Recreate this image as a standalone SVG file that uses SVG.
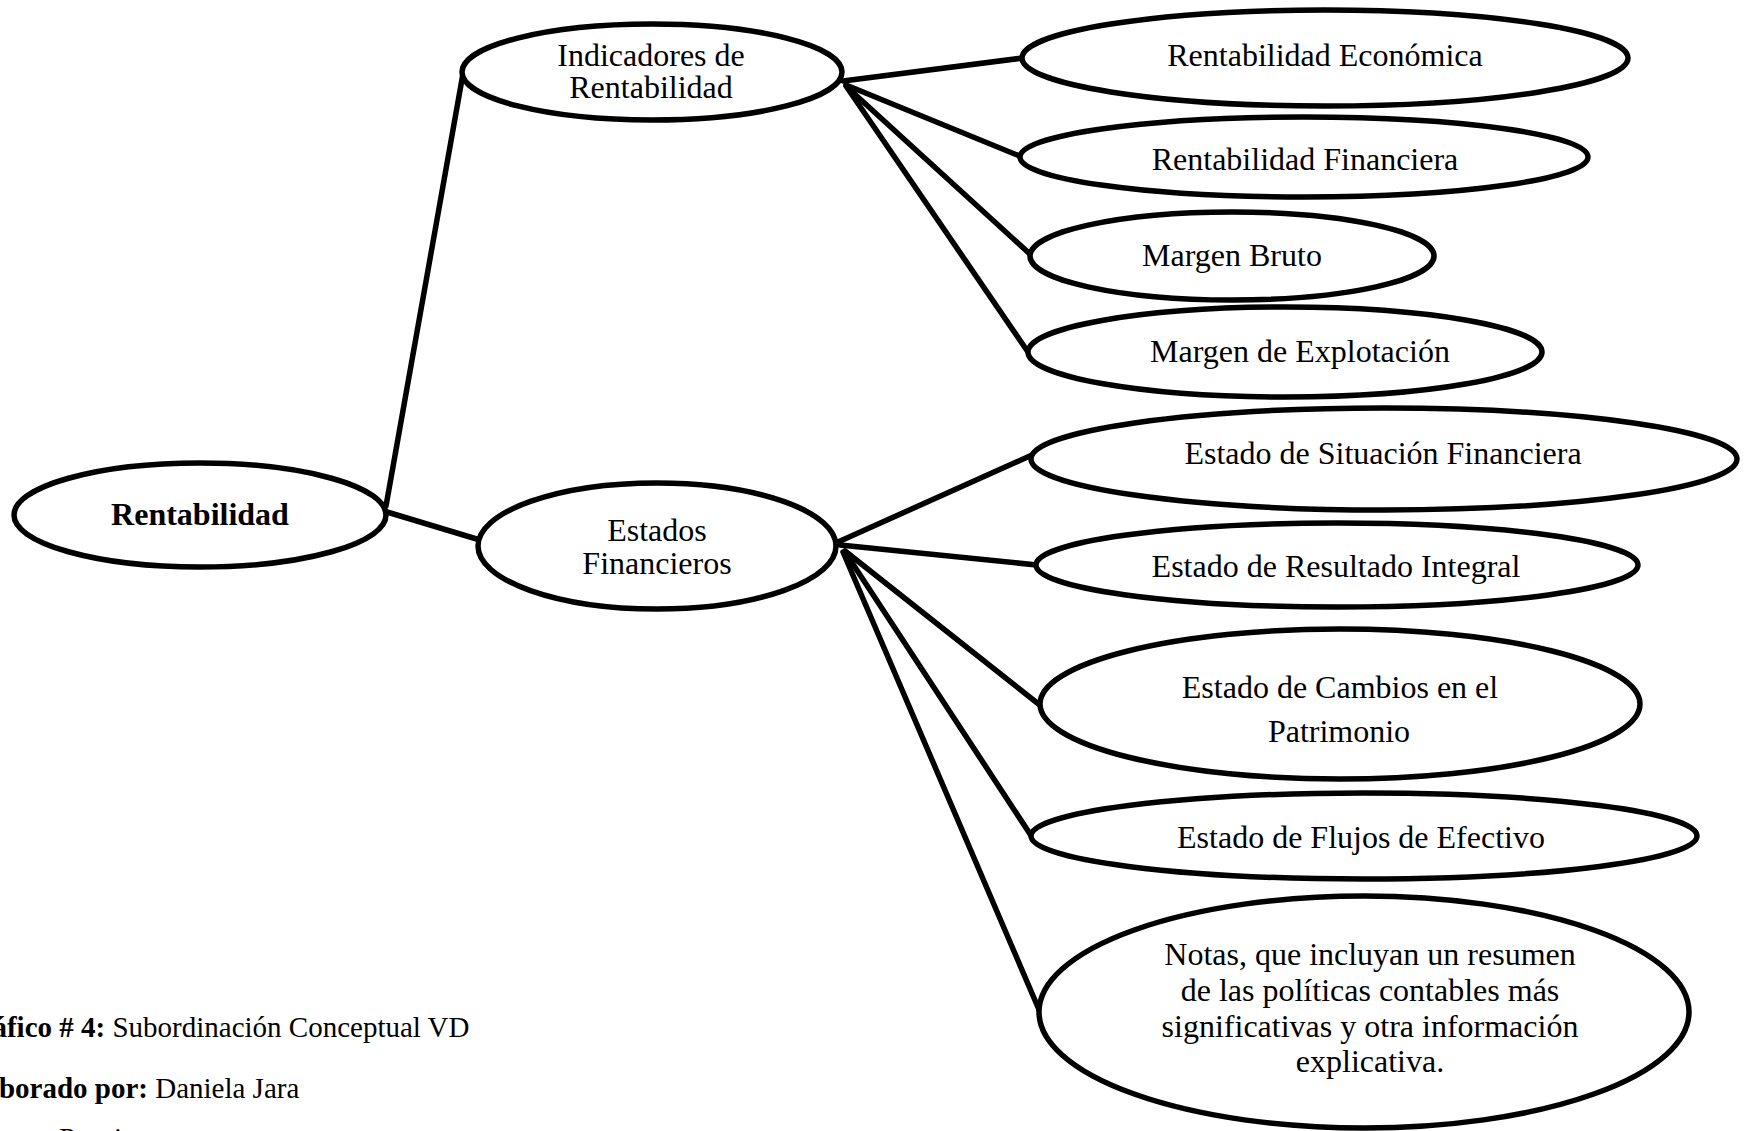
<svg xmlns="http://www.w3.org/2000/svg" width="1752" height="1131" viewBox="0 0 1752 1131">
  <style>
    .node ellipse { fill: #ffffff; stroke: #000000; stroke-width: 5.5; }
    .edges line { stroke: #000000; stroke-width: 5.5; stroke-linecap: round; }
    text { font-family: "Liberation Serif", "Times New Roman", serif; fill: #000000; }
    .lbl { font-size: 32px; text-anchor: middle; }
    .root { font-weight: bold; }
    .foot { font-size: 29px; }
    .foot .b { font-weight: bold; }
  </style>
  <rect width="1752" height="1131" fill="#ffffff"/>

  <!-- connectors -->
  <g id="connectors" class="edges">
    <line x1="386" y1="506" x2="464" y2="68"/>
    <line x1="387" y1="512" x2="480" y2="540"/>
    <line x1="843" y1="81" x2="1023" y2="58"/>
    <line x1="846" y1="85" x2="1022" y2="157"/>
    <line x1="848" y1="88" x2="1031" y2="255"/>
    <line x1="846" y1="86" x2="1028" y2="352"/>
    <line x1="838" y1="542" x2="1032" y2="455"/>
    <line x1="840" y1="545" x2="1037" y2="565"/>
    <line x1="845" y1="551" x2="1041" y2="706"/>
    <line x1="845" y1="552" x2="1032" y2="837"/>
    <line x1="843" y1="552" x2="1040" y2="1012"/>
  </g>

  <!-- root -->
  <g id="rentabilidad" class="node">
    <ellipse cx="200" cy="515" rx="186" ry="52"/>
    <text class="lbl root" x="200" y="525">Rentabilidad</text>
  </g>

  <!-- second level -->
  <g id="indicadores" class="node">
    <ellipse cx="652" cy="72" rx="190" ry="48"/>
    <text class="lbl" x="651" y="66">Indicadores de</text>
    <text class="lbl" x="651" y="98">Rentabilidad</text>
  </g>
  <g id="estados" class="node">
    <ellipse cx="657" cy="546" rx="179" ry="63"/>
    <text class="lbl" x="657" y="541">Estados</text>
    <text class="lbl" x="657" y="574">Financieros</text>
  </g>

  <!-- profitability indicators -->
  <g id="rent-economica" class="node">
    <ellipse cx="1325" cy="58" rx="303" ry="48"/>
    <text class="lbl" x="1325" y="66">Rentabilidad Económica</text>
  </g>
  <g id="rent-financiera" class="node">
    <ellipse cx="1304" cy="157" rx="284" ry="40"/>
    <text class="lbl" x="1305" y="170">Rentabilidad Financiera</text>
  </g>
  <g id="margen-bruto" class="node">
    <ellipse cx="1232" cy="256" rx="202" ry="44"/>
    <text class="lbl" x="1232" y="266">Margen Bruto</text>
  </g>
  <g id="margen-explotacion" class="node">
    <ellipse cx="1285" cy="352" rx="257" ry="45"/>
    <text class="lbl" x="1300" y="362">Margen de Explotación</text>
  </g>

  <!-- financial statements -->
  <g id="situacion" class="node">
    <ellipse cx="1384" cy="459" rx="353" ry="51"/>
    <text class="lbl" x="1383" y="464">Estado de Situación Financiera</text>
  </g>
  <g id="resultado" class="node">
    <ellipse cx="1337" cy="565" rx="301" ry="42"/>
    <text class="lbl" x="1336" y="577">Estado de Resultado Integral</text>
  </g>
  <g id="cambios" class="node">
    <ellipse cx="1340" cy="704" rx="300" ry="75"/>
    <text class="lbl" x="1340" y="698">Estado de Cambios en el</text>
    <text class="lbl" x="1339" y="742">Patrimonio</text>
  </g>
  <g id="flujos" class="node">
    <ellipse cx="1364" cy="836" rx="333" ry="43"/>
    <text class="lbl" x="1361" y="848">Estado de Flujos de Efectivo</text>
  </g>
  <g id="notas" class="node">
    <ellipse cx="1364" cy="1012" rx="325" ry="116"/>
    <text class="lbl" x="1370" y="965">Notas, que incluyan un resumen</text>
    <text class="lbl" x="1370" y="1001">de las políticas contables más</text>
    <text class="lbl" x="1370" y="1037">significativas y otra información</text>
    <text class="lbl" x="1370" y="1072">explicativa.</text>
  </g>

  <!-- caption -->
  <g id="caption" class="foot">
    <text x="-43" y="1037"><tspan class="b">Gráfico # 4:</tspan> Subordinación Conceptual VD</text>
    <text x="-43" y="1098"><tspan class="b">Elaborado por:</tspan> Daniela Jara</text>
    <text x="-43" y="1148"><tspan class="b">Fuente:</tspan> Propia</text>
  </g>
</svg>
